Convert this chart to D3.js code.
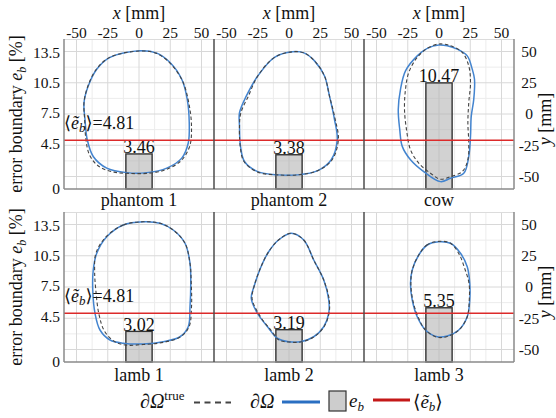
<!DOCTYPE html>
<html>
<head>
<meta charset="utf-8">
<script src="https://cdn.jsdelivr.net/npm/d3@7"></script>
<style>
  html, body { margin: 0; padding: 0; background: #fff; }
  svg { display: block; }
</style>
</head>
<body>
<svg id="chart" width="556" height="418" font-family="'Liberation Serif', 'DejaVu Serif', serif"></svg>
<script>
// ---- data ----
const samples = ["phantom 1", "phantom 2", "cow", "lamb 1", "lamb 2", "lamb 3"];
const errorBoundary = [3.46, 3.38, 10.47, 3.02, 3.19, 5.35];   // e_b [%]
const meanErrorBoundary = [4.81, 4.81];                        // <e_b> per row
const xTicks = [-50, -25, 0, 25, 50];                          // x [mm]
const yTicks = [50, 25, 0, -25, -50];                          // y [mm]
const ebTicks = [0, 4.5, 7.5, 10.5, 13.5];                     // e_b [%]

// boundary contours, [x, y] in mm
const truePhantom1 = [[0.8,50.4],[-23,45.5],[-34,36],[-41,22],[-44,9],[-43.5,-4],[-42.5,-20],[-39.5,-33],[-32,-42],[-20,-46.5],[-8,-47.5],[6,-47.5],[20,-45],[33,-38],[40.5,-26],[42,-10],[40,8],[35,26],[25,40.5],[14,48.5]];
const reconPhantom1 = [[0.8,50.6],[-23.2,45.3],[-33.8,35.8],[-40.6,22.4],[-44,9],[-43.2,-4.4],[-41.4,-20.5],[-36.6,-34],[-25.8,-43.3],[-9.8,-46.9],[6.2,-46.9],[22.2,-43.3],[34.2,-35.3],[39.4,-23.2],[40.2,-7.1],[38.6,11.7],[34.2,27.8],[24.8,41.2],[14.2,48.7]];

const truePhantom2 = [[3,49.8],[-11.6,45.3],[-25,30.4],[-32.5,14.3],[-38.5,1],[-39.6,-9.8],[-39,-25.9],[-36,-38],[-25,-46.5],[-9,-48.7],[7,-48.7],[23,-45.3],[34.5,-36.6],[39.5,-20.5],[37,-4.4],[32.4,14.3],[28.4,30.4],[20.4,42.5],[12.4,48.7]];
const reconPhantom2 = [[3,49.8],[-11.6,45.3],[-25,30.4],[-34.2,14.3],[-39.6,1],[-39.6,-9.8],[-38.8,-25.9],[-35.6,-38],[-25,-46.1],[-9,-48.7],[7,-48.7],[23,-45.3],[33.8,-36.6],[38.6,-20.5],[36.4,-4.4],[32.4,14.3],[28.4,30.4],[20.4,42.5],[12.4,48.7]];

const trueCow = [[-0.2,56],[9.2,54.6],[18.6,49.3],[23.8,38.5],[25.2,25.1],[23.8,9],[23.1,-7.1],[23.8,-23.2],[23.1,-36.6],[18.6,-46.1],[9.2,-50.1],[1.2,-52.2],[-6.8,-47.4],[-16.2,-39.3],[-22.8,-28.6],[-26,-12.5],[-27.6,3.6],[-26.8,19.7],[-24.2,33.2],[-17.4,45.3],[-9.4,52.5]];
const reconCow = [[-0.2,55.2],[-9.4,52.5],[-17.4,46.5],[-26.8,34.5],[-30.8,19.7],[-32.6,3.6],[-31.4,-12.5],[-29.4,-25.9],[-22.8,-36.6],[-12.2,-46.1],[1.2,-54.1],[9.2,-51.4],[19.8,-47.4],[23.8,-34],[25.2,-17.9],[25.8,-1.8],[27.8,11.7],[28.4,27.8],[26.6,35.8],[22.6,46.5],[14.6,51.9],[6.6,54.6]];

const trueLamb1 = [[3.4,52.2],[-12.6,49.6],[-26.5,40],[-34.5,27],[-35.5,13],[-34.5,-3],[-32,-22],[-27.5,-35.5],[-19,-44],[-10,-46.5],[3.4,-46],[19.4,-44.3],[33,-40],[40,-32],[42,-16],[41.8,3],[40.8,19],[36.8,35],[27.4,45.6],[16.8,51]];
const reconLamb1 = [[3.4,52.2],[-12.6,49.6],[-25.8,40.2],[-33.8,27],[-36.6,13.6],[-37,-2.4],[-35.2,-21],[-31.2,-34.4],[-23.2,-42.4],[-12.6,-45],[3.4,-45.6],[19.4,-43.8],[32.8,-39.8],[39.4,-31.8],[40.8,-15.8],[41.4,3],[40.8,19],[36.8,35],[27.4,45.6],[16.8,51]];

const trueLamb2 = [[1.8,43],[11.8,37.6],[19.8,21.6],[27.8,5.6],[32.2,-10.4],[32,-21],[28,-31.8],[19.8,-40],[9.2,-44],[-0.2,-44],[-8,-42.5],[-14.5,-34.5],[-23,-23.5],[-29.5,-9.5],[-27.6,1.6],[-22.8,15.2],[-16.4,28],[-8.4,37.6]];
const reconLamb2 = [[1.8,43],[11.8,37.6],[19.8,21.6],[27.8,5.6],[31.8,-10.4],[31.8,-21],[27.8,-31.8],[19.8,-39.8],[9.2,-43.8],[-0.2,-43.8],[-9.4,-41],[-16.4,-32.8],[-25.4,-20.8],[-30.2,-9],[-27.6,1.6],[-22.8,15.2],[-16.4,28],[-8.4,37.6]];

const trueLamb3 = [[-0.2,36.5],[-9.4,33.8],[-16.2,25.6],[-21.4,13.6],[-22.5,3],[-21,-10.4],[-16.5,-24.5],[-10.5,-34.8],[-1.4,-40.2],[6.6,-39.6],[15.8,-34.6],[22.6,-23.8],[24.2,-10.4],[24,3],[20.5,15],[16,26.5],[9.2,35]];
const reconLamb3 = [[-0.2,36.2],[-9.4,33.6],[-16.2,25.6],[-21.4,13.6],[-22.8,3],[-21.4,-10.4],[-17.4,-23.8],[-10.8,-34.4],[-1.4,-39.8],[6.6,-39.2],[15.8,-34.4],[22.6,-23.8],[24.6,-10.4],[24.6,3],[22.6,16.2],[17.2,27],[9.2,35]];

const trueContours = [truePhantom1, truePhantom2, trueCow, trueLamb1, trueLamb2, trueLamb3];
const reconContours = [reconPhantom1, reconPhantom2, reconCow, reconLamb1, reconLamb2, reconLamb3];

// ---- layout ----
const svg = d3.select("#chart");
const panelW = 150, panelH = 150;
const plotLeft = 64;
const rowTops = [39, 212];
const plotRight = plotLeft + 3 * panelW;
const mmExtent = [-60, 60];
const ebExtent = [0, 14.8];
const barHalf = 10.5; // bar half-width in mm

const blue = "#4384cf", red = "#dc2a2a", dashCol = "#444444", ink = "#111";

const line = d3.line().curve(d3.curveCatmullRomClosed.alpha(0.5));

// <e_b> label with a tilde over e: ⟨ẽ_b⟩
function meanLabel(t, suffix) {
  t.append("tspan").text("⟨");
  t.append("tspan").attr("font-style", "italic").text("ẽ");
  t.append("tspan").attr("font-style", "italic").attr("font-size", 13).attr("dy", 3).text("b");
  t.append("tspan").attr("dy", -3).text("⟩" + suffix);
}

// grid, bars, contours per panel
samples.forEach((name, i) => {
  const row = Math.floor(i / 3), col = i % 3;
  const x0 = plotLeft + col * panelW, y0 = rowTops[row];
  const xs = d3.scaleLinear().domain(mmExtent).range([x0, x0 + panelW]);
  const ys = d3.scaleLinear().domain(mmExtent).range([y0 + panelH, y0]);
  const eb = d3.scaleLinear().domain(ebExtent).range([y0 + panelH, y0]);
  const g = svg.append("g");

  const minor = d3.range(-37.5, 40, 25);
  g.selectAll(".gxm").data(minor).join("line")
    .attr("x1", d => xs(d)).attr("x2", d => xs(d)).attr("y1", y0).attr("y2", y0 + panelH)
    .attr("stroke", "#ececec").attr("stroke-width", 1);
  g.selectAll(".gym").data(minor).join("line")
    .attr("y1", d => ys(d)).attr("y2", d => ys(d)).attr("x1", x0).attr("x2", x0 + panelW)
    .attr("stroke", "#ececec").attr("stroke-width", 1);
  g.selectAll(".gx").data(xTicks).join("line")
    .attr("x1", d => xs(d)).attr("x2", d => xs(d)).attr("y1", y0).attr("y2", y0 + panelH)
    .attr("stroke", "#d8d8d8").attr("stroke-width", 1);
  g.selectAll(".gy").data(yTicks).join("line")
    .attr("y1", d => ys(d)).attr("y2", d => ys(d)).attr("x1", x0).attr("x2", x0 + panelW)
    .attr("stroke", "#d8d8d8").attr("stroke-width", 1);
  // top edge
  g.append("line").attr("x1", x0).attr("x2", x0 + panelW).attr("y1", y0 + 0.5).attr("y2", y0 + 0.5)
    .attr("stroke", "#dcdcdc");

  // e_b bar
  g.append("rect")
    .attr("x", xs(-barHalf)).attr("width", xs(barHalf) - xs(-barHalf))
    .attr("y", eb(errorBoundary[i])).attr("height", eb(0) - eb(errorBoundary[i]))
    .attr("fill", "#b4b4b4").attr("fill-opacity", 0.6)
    .attr("stroke", "#333").attr("stroke-width", 1.4);

  // boundaries
  g.append("path").attr("d", line(reconContours[i].map(p => [xs(p[0]), ys(p[1])])))
    .attr("fill", "none").attr("stroke", blue).attr("stroke-width", 1.5);
  g.append("path").attr("d", line(trueContours[i].map(p => [xs(p[0]), ys(p[1])])))
    .attr("fill", "none").attr("stroke", dashCol).attr("stroke-width", 1.1)
    .attr("stroke-dasharray", "3.5,2.5");

  // bar value
  g.append("text").attr("x", xs(0)).attr("y", eb(errorBoundary[i]) - 0.5)
    .attr("text-anchor", "middle").attr("font-size", 18).attr("fill", ink)
    .text(errorBoundary[i].toFixed(2));

  // sample name
  g.append("text").attr("x", xs(0)).attr("y", y0 + panelH + (row === 0 ? 17 : 19))
    .attr("text-anchor", "middle").attr("font-size", 18).attr("fill", ink).text(name);

  // x ticks on top row
  if (row === 0) {
    g.selectAll(".xt").data(xTicks).join("text")
      .attr("x", d => xs(d)).attr("y", 38)
      .attr("text-anchor", "middle").attr("font-size", 15.5).attr("fill", ink)
      .text(d => d < 0 ? "-" + Math.abs(d) : d);
    g.append("text").attr("x", xs(0)).attr("y", 19)
      .attr("text-anchor", "middle").attr("font-size", 18).attr("fill", ink)
      .call(t => {
        t.append("tspan").attr("font-style", "italic").text("x");
        t.append("tspan").text(" [mm]");
      });
  }
});

// frames, mean line, axes per row
rowTops.forEach((y0, row) => {
  const eb = d3.scaleLinear().domain(ebExtent).range([y0 + panelH, y0]);
  const ys = d3.scaleLinear().domain(mmExtent).range([y0 + panelH, y0]);
  const g = svg.append("g");

  // mean error boundary line
  g.append("line").attr("x1", plotLeft).attr("x2", plotRight)
    .attr("y1", eb(meanErrorBoundary[row])).attr("y2", eb(meanErrorBoundary[row]))
    .attr("stroke", red).attr("stroke-width", 1.4);

  // frame
  g.append("line").attr("x1", plotLeft).attr("x2", plotLeft).attr("y1", y0).attr("y2", y0 + panelH)
    .attr("stroke", "#8a8a8a").attr("stroke-width", 1.5);
  g.append("line").attr("x1", plotRight).attr("x2", plotRight).attr("y1", y0).attr("y2", y0 + panelH)
    .attr("stroke", "#8a8a8a").attr("stroke-width", 1.5);
  g.append("line").attr("x1", plotLeft).attr("x2", plotRight).attr("y1", y0 + panelH).attr("y2", y0 + panelH)
    .attr("stroke", "#8a8a8a").attr("stroke-width", 1.5);
  [1, 2].forEach(c => {
    g.append("line").attr("x1", plotLeft + c * panelW).attr("x2", plotLeft + c * panelW)
      .attr("y1", y0).attr("y2", y0 + panelH)
      .attr("stroke", "#4d4d4d").attr("stroke-width", 1.5);
  });

  // left e_b ticks
  g.selectAll(".et").data(ebTicks).join("text")
    .attr("x", 60).attr("y", d => eb(d)).attr("dy", "0.35em")
    .attr("text-anchor", "end").attr("font-size", 15.5).attr("fill", ink).text(d => d);

  // right y ticks
  g.selectAll(".yt").data(yTicks).join("text")
    .attr("x", 529).attr("y", d => ys(d)).attr("dy", "0.35em")
    .attr("text-anchor", "middle").attr("font-size", 15.5).attr("fill", ink)
    .text(d => d < 0 ? "-" + Math.abs(d) : d);

  const cy = y0 + panelH / 2;
  // left axis title
  g.append("text").attr("transform", `translate(22,${cy}) rotate(-90)`)
    .attr("text-anchor", "middle").attr("font-size", 18).attr("fill", ink)
    .call(t => {
      t.append("tspan").text("error boundary ");
      t.append("tspan").attr("font-style", "italic").text("e");
      t.append("tspan").attr("font-style", "italic").attr("font-size", 12).attr("dy", 4).text("b");
      t.append("tspan").attr("dy", -4).text(" [%]");
    });
  // right axis title
  g.append("text").attr("transform", `translate(551,${cy + 5}) rotate(-90)`)
    .attr("text-anchor", "middle").attr("font-size", 18).attr("fill", ink)
    .call(t => {
      t.append("tspan").attr("font-style", "italic").text("y");
      t.append("tspan").text(" [mm]");
    });

  // mean annotation
  g.append("text").attr("x", 64).attr("y", eb(meanErrorBoundary[row]) - 11)
    .attr("font-size", 18).attr("fill", ink)
    .call(t => meanLabel(t, "=" + meanErrorBoundary[row].toFixed(2)));
});

// legend
const lg = svg.append("g");
const ly = 408;
lg.append("text").attr("x", 140).attr("y", ly).attr("font-size", 20).attr("fill", ink)
  .call(t => {
    t.append("tspan").attr("font-style", "italic").text("∂Ω");
    t.append("tspan").attr("font-size", 13).attr("dy", -8).text("true");
  });
lg.append("line").attr("x1", 194).attr("x2", 231).attr("y1", 402.5).attr("y2", 402.5)
  .attr("stroke", dashCol).attr("stroke-width", 2).attr("stroke-dasharray", "6,4.5");
lg.append("text").attr("x", 250).attr("y", ly).attr("font-size", 20).attr("fill", ink)
  .attr("font-style", "italic").text("∂Ω");
lg.append("line").attr("x1", 282).attr("x2", 320).attr("y1", 402).attr("y2", 402)
  .attr("stroke", "#2a6fc2").attr("stroke-width", 3);
lg.append("rect").attr("x", 329).attr("y", 391).attr("width", 17).attr("height", 20)
  .attr("fill", "#cdcdcd").attr("stroke", "#333").attr("stroke-width", 1.2);
lg.append("text").attr("x", 349).attr("y", ly - 1).attr("font-size", 19).attr("fill", ink)
  .call(t => {
    t.append("tspan").attr("font-style", "italic").text("e");
    t.append("tspan").attr("font-style", "italic").attr("font-size", 13).attr("dy", 4).text("b");
  });
lg.append("line").attr("x1", 373).attr("x2", 410).attr("y1", 400).attr("y2", 400)
  .attr("stroke", "#c41818").attr("stroke-width", 3);
lg.append("text").attr("x", 413).attr("y", ly).attr("font-size", 19).attr("fill", ink)
  .call(t => meanLabel(t, ""));
</script>
</body>
</html>
